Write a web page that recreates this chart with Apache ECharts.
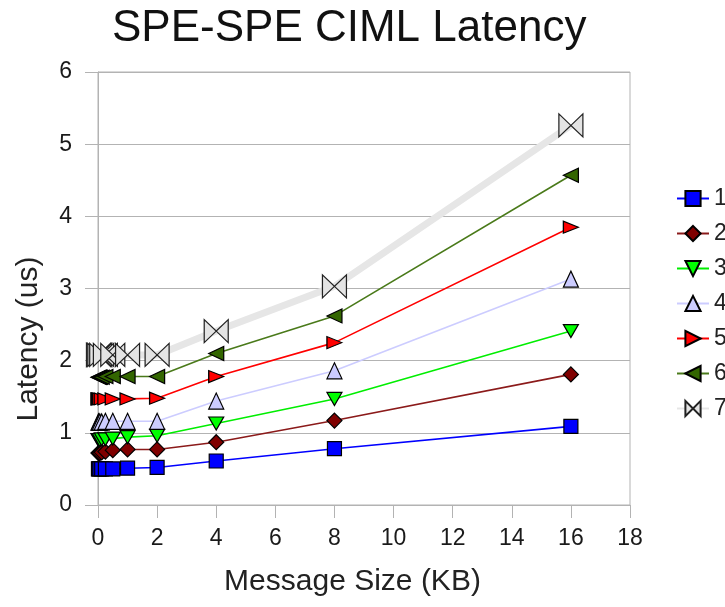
<!DOCTYPE html>
<html>
<head>
<meta charset="utf-8">
<script src="https://cdn.jsdelivr.net/npm/echarts@6/dist/echarts.min.js"></script>
<style>
  html, body { margin: 0; padding: 0; background: #ffffff; }
  #chart { width: 725px; height: 607px; }
</style>
</head>
<body>
<div id="chart"></div>
<script>
// Message sizes (KB) measured for every series
const messageSizesKB = [0.015625, 0.03125, 0.0625, 0.125, 0.25, 0.5, 1, 2, 4, 8, 16];

// Latency in microseconds, one array per series
const latency1 = [0.50, 0.50, 0.50, 0.50, 0.50, 0.50, 0.51, 0.52, 0.61, 0.78, 1.09];
const latency2 = [0.72, 0.72, 0.72, 0.73, 0.74, 0.76, 0.77, 0.77, 0.87, 1.17, 1.81];
const latency3 = [0.90, 0.90, 0.90, 0.91, 0.91, 0.92, 0.94, 0.96, 1.13, 1.47, 2.41];
const latency4 = [1.15, 1.15, 1.15, 1.15, 1.16, 1.16, 1.16, 1.16, 1.44, 1.86, 3.13];
const latency5 = [1.47, 1.47, 1.47, 1.47, 1.47, 1.47, 1.47, 1.48, 1.78, 2.25, 3.85];
const latency6 = [1.77, 1.77, 1.77, 1.77, 1.78, 1.78, 1.78, 1.78, 2.10, 2.62, 4.57];
const latency7 = [2.08, 2.08, 2.08, 2.08, 2.08, 2.08, 2.08, 2.08, 2.41, 3.03, 5.26];

const seriesNames = ['1', '2', '3', '4', '5', '6', '7'];

// Axis ranges
const xRange = { min: 0, max: 18, interval: 2 };
const yRange = { min: 0, max: 6, interval: 1 };

const titleText = 'SPE-SPE CIML Latency';
const xTitle = 'Message Size (KB)';
const yTitle = 'Latency (us)';

const FONT = '"Liberation Sans", Arial, sans-serif';
const GRID_COLOR = '#b3b3b3';
const BOWTIE = 'path://M0,0L10,10L0,20ZM20,0L10,10L20,20Z';

function lineSeries(name, values, look) {
  return {
    type: 'line',
    name: name,
    data: messageSizesKB.map((x, i) => [x, values[i]]),
    symbol: look.symbol,
    symbolSize: look.size,
    symbolRotate: look.rotate || 0,
    showAllSymbol: true,
    lineStyle: { color: look.line, width: look.width || 1.6 },
    itemStyle: { color: look.fill, borderColor: look.border || '#000000', borderWidth: 1.2 },
    emphasis: { disabled: true },
    z: look.z || 2
  };
}

const series = [
  lineSeries(seriesNames[0], latency1, { symbol: 'rect', size: 14, fill: '#0000ff', line: '#0000ff' }),
  lineSeries(seriesNames[1], latency2, { symbol: 'diamond', size: [15, 15], fill: '#800000', line: '#8b1a1a' }),
  lineSeries(seriesNames[2], latency3, { symbol: 'triangle', size: [15, 13], rotate: 180, fill: '#00ff00', line: '#00ee00' }),
  lineSeries(seriesNames[3], latency4, { symbol: 'triangle', size: [15, 16], fill: '#ccccff', line: '#ccccff' }),
  lineSeries(seriesNames[4], latency5, { symbol: 'triangle', size: [12, 15], rotate: -90, fill: '#ff0000', line: '#ff0000' }),
  lineSeries(seriesNames[5], latency6, { symbol: 'triangle', size: [14, 15], rotate: 90, fill: '#336600', line: '#4a7a1a' }),
  lineSeries(seriesNames[6], latency7, { symbol: BOWTIE, size: [24, 23], fill: '#e4e4e4', line: '#e6e6e6', border: '#222222', width: 7 })
];

const chart = echarts.init(document.getElementById('chart'), null, { renderer: 'canvas' });
chart.setOption({
  animation: false,
  backgroundColor: '#ffffff',
  title: {
    text: titleText,
    left: 107,
    top: 2,
    textStyle: { fontFamily: FONT, fontSize: 44, fontWeight: 'normal', color: '#111111' }
  },
  legend: {
    data: seriesNames,
    orient: 'vertical',
    left: 671,
    top: 182,
    itemWidth: 32,
    itemHeight: 19,
    itemGap: 12,
    textStyle: { fontFamily: FONT, fontSize: 23, color: '#222222' },
    selectedMode: false
  },
  grid: {
    left: 98, right: 95, top: 72, bottom: 102,
    show: true, borderColor: GRID_COLOR, borderWidth: 1
  },
  xAxis: {
    type: 'value',
    min: xRange.min, max: xRange.max, interval: xRange.interval,
    name: xTitle,
    nameLocation: 'middle',
    nameGap: 62,
    nameTextStyle: { fontFamily: FONT, fontSize: 30, color: '#222222', padding: [0, 23, 0, 0] },
    axisLine: { lineStyle: { color: GRID_COLOR, width: 1 } },
    axisTick: { show: true, length: 13, lineStyle: { color: GRID_COLOR } },
    axisLabel: { fontFamily: FONT, fontSize: 23, color: '#1a1a1a', margin: 22 },
    splitLine: { show: false }
  },
  yAxis: {
    type: 'value',
    min: yRange.min, max: yRange.max, interval: yRange.interval,
    name: yTitle,
    nameLocation: 'middle',
    nameGap: 54,
    nameTextStyle: { fontFamily: FONT, fontSize: 30, color: '#222222', padding: [0, 101, 0, 0] },
    axisLine: { show: true, lineStyle: { color: GRID_COLOR, width: 1 } },
    axisTick: { show: true, length: 13, lineStyle: { color: GRID_COLOR } },
    axisLabel: { fontFamily: FONT, fontSize: 23, color: '#1a1a1a', margin: 26 },
    splitLine: { show: true, lineStyle: { color: GRID_COLOR, width: 1 } }
  },
  series: series
});
</script>
</body>
</html>
